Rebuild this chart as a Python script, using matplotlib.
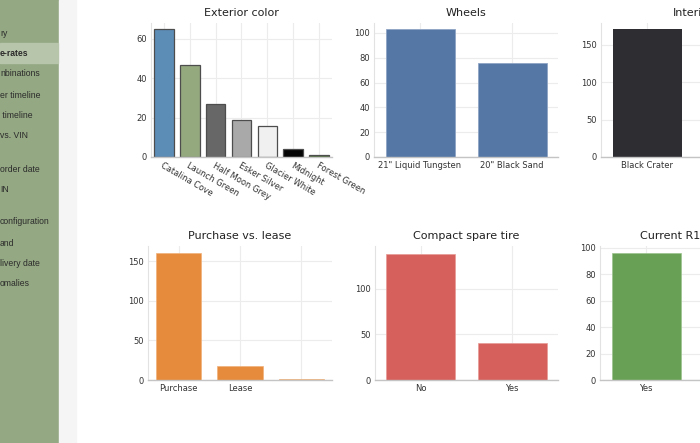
import matplotlib.pyplot as plt
from matplotlib.patches import Rectangle

W, H = 700, 443

# sidebar entries (cut off at the left edge in the screenshot)
nav_items = ["ry", "e-rates", "nbinations", "er timeline", " timeline", "vs. VIN",
             "order date", "IN", "configuration", "and", "livery date", "omalies"]
nav_y = [33, 53, 74, 95, 115, 136, 169, 189, 222, 243, 263, 284]
nav_active = "e-rates"

ext_colors = ["Catalina Cove", "Launch Green", "Half Moon Grey", "Esker Silver",
              "Glacier White", "Midnight", "Forest Green"]
ext_counts = [65, 47, 27, 19, 16, 4, 1]
ext_fill = ["#5c8db7", "#95a97f", "#676767", "#a9a9a9", "#f0f0f0", "#050505", "#4a6b35"]

wheels = ['21" Liquid Tungsten', '20" Black Sand']
wheels_counts = [103, 76]

interior = ["Black Crater"]
interior_counts = [171]

purchase = ["Purchase", "Lease", ""]
purchase_counts = [160, 18, 1]

spare = ["No", "Yes"]
spare_counts = [138, 40]

owner = ["Yes"]
owner_counts = [96]


def px_axes(fig, left, right, top, bottom):
    return fig.add_axes([left / W, 1 - bottom / H, (right - left) / W, (bottom - top) / H])


def style(ax, title, ylim, yticks, xlim):
    ax.set_xlim(*xlim)
    ax.set_ylim(0, ylim)
    ax.set_yticks(yticks)
    ax.set_title(title, fontsize=8, color="#222222", pad=5)
    ax.grid(True, color="#ececec", lw=0.8)
    ax.set_axisbelow(True)
    for s in ["top", "right"]:
        ax.spines[s].set_visible(False)
    ax.spines["left"].set_color("#e2e2e2")
    ax.spines["bottom"].set_color("#c4c4c4")
    ax.spines["bottom"].set_linewidth(1.0)
    ax.tick_params(length=0, labelsize=6, colors="#333333", pad=3)
    ax.set_facecolor("white")


fig = plt.figure(figsize=(7, 4.43), dpi=100)
fig.patch.set_facecolor("white")

# sidebar and gutter
fig.patches.append(Rectangle((0, 0), 59 / W, 1, transform=fig.transFigure,
                             color="#94a883", zorder=0))
fig.patches.append(Rectangle((59 / W, 0), 17 / W, 1, transform=fig.transFigure,
                             color="#f5f5f5", zorder=0))
for name, y in zip(nav_items, nav_y):
    active = name == nav_active
    if active:
        fig.patches.append(Rectangle((0, 1 - 63 / H), 58 / W, 20 / H,
                                     transform=fig.transFigure, color="#b7c5aa", zorder=1))
    fig.text(0, 1 - y / H, name, fontsize=6.2, family="Liberation Sans",
             fontweight="bold" if active else "normal",
             color="#2b2b2b", va="center", ha="left", zorder=2)

# Exterior color
ax = px_axes(fig, 151, 332, 23, 157)
ax.bar(ext_colors, ext_counts, width=0.76, color=ext_fill, edgecolor="#4d4d4d", lw=0.9)
style(ax, "Exterior color", 68.1, [0, 20, 40, 60], (-0.5, 6.5))
ax.set_xticks(range(len(ext_colors)))
ax.set_xticklabels(ext_colors, rotation=-30, ha="left", va="top", rotation_mode="anchor")

# Wheels
ax = px_axes(fig, 374, 558, 23, 157)
ax.bar(wheels, wheels_counts, width=0.75, color="#5577a5", edgecolor="#8ea4c4", lw=0.6)
style(ax, "Wheels", 108, [0, 20, 40, 60, 80, 100], (-0.5, 1.5))

# Interior
ax = px_axes(fig, 601, 785, 23, 157)
ax.bar(interior, interior_counts, width=0.75, color="#2e2d32")
style(ax, "Interior", 179, [0, 50, 100, 150], (-0.5, 1.5))

# Purchase vs. lease
ax = px_axes(fig, 148, 332, 246, 380)
ax.bar(purchase, purchase_counts, width=0.74, color="#e68b3b", edgecolor="#f0b27c", lw=0.5)
style(ax, "Purchase vs. lease", 169, [0, 50, 100, 150], (-0.5, 2.5))

# Compact spare tire
ax = px_axes(fig, 375, 558, 246, 380)
ax.bar(spare, spare_counts, width=0.75, color="#d6605b", edgecolor="#e69a96", lw=0.5)
style(ax, "Compact spare tire", 146.8, [0, 50, 100], (-0.5, 1.5))

# Current owner
ax = px_axes(fig, 600, 784, 246, 380)
ax.bar(owner, owner_counts, width=0.75, color="#68a155", edgecolor="#9cc38e", lw=0.5)
style(ax, "Current R1T owner", 101.5, [0, 20, 40, 60, 80, 100], (-0.5, 1.5))

fig.savefig("out.png", dpi=100)
